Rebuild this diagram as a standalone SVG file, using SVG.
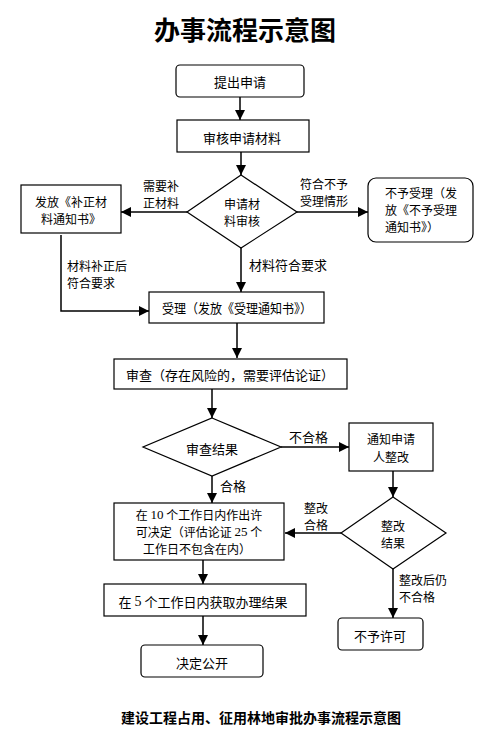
<svg xmlns="http://www.w3.org/2000/svg" width="496" height="737" viewBox="0 0 496 737">
<style>
.box{fill:#fff;stroke:#000;stroke-width:1.2}
.t{font-family:"Noto Sans CJK SC","Noto Sans",sans-serif;font-size:13px;fill:#000;dominant-baseline:central}
.m{font-size:12px}
.c{text-anchor:middle}
.n{font-family:"Liberation Serif",serif;font-size:13px}
.con{fill:none;stroke:#000;stroke-width:1.5;marker-end:url(#ah)}
</style>
<defs>
<marker id="ah" markerUnits="userSpaceOnUse" markerWidth="11" markerHeight="10" refX="10" refY="5" orient="auto">
<path d="M0,0 L10,5 L0,10 z" fill="#000"/>
</marker>
</defs>
<rect width="496" height="737" fill="#fff"/>
<text x="245" y="28" class="t c" style="font-size:26px;font-weight:bold">办事流程示意图</text>

<g id="connectors">
<line class="con" x1="240" y1="97" x2="240" y2="120"/>
<line class="con" x1="241" y1="152" x2="241" y2="175"/>
<line class="con" x1="187" y1="212" x2="121" y2="212"/>
<line class="con" x1="297" y1="212" x2="368" y2="212"/>
<line class="con" x1="241" y1="248" x2="241" y2="292"/>
<polyline class="con" points="61,235 61,311 149,311"/>
<line class="con" x1="237" y1="323" x2="237" y2="358"/>
<line class="con" x1="212" y1="389" x2="212" y2="418"/>
<line class="con" x1="281" y1="447" x2="349" y2="447"/>
<line class="con" x1="212" y1="476" x2="212" y2="503"/>
<line class="con" x1="393" y1="471" x2="393" y2="497"/>
<line class="con" x1="341" y1="533" x2="285" y2="533"/>
<line class="con" x1="393" y1="569" x2="393" y2="618"/>
<line class="con" x1="203" y1="560" x2="203" y2="584"/>
<line class="con" x1="203" y1="616" x2="203" y2="645"/>
<text class="t m" x="143" y="185">需要补</text>
<text class="t m" x="143" y="202">正材料</text>
<text class="t m" x="300" y="183">符合不予</text>
<text class="t m" x="300" y="200">受理情形</text>
<text class="t m" x="67" y="265">材料补正后</text>
<text class="t m" x="67" y="282">符合要求</text>
<text class="t" x="249" y="264">材料符合要求</text>
<text class="t" x="289" y="436">不合格</text>
<text class="t" x="220" y="485">合格</text>
<text class="t m" x="304" y="507">整改</text>
<text class="t m" x="304" y="524">合格</text>
<text class="t m" x="399" y="579">整改后仍</text>
<text class="t m" x="399" y="596">不合格</text>
</g>

<g id="n1"><rect class="box" x="176" y="65" width="128" height="32" rx="4"/><text class="t c" x="240" y="81">提出申请</text></g>
<g id="n2"><rect class="box" x="177" y="120" width="132" height="32"/><text class="t c" x="242" y="137">审核申请材料</text></g>
<g id="n3"><polygon class="box" points="241,175 297,212 241,248 187,212"/><text class="t m c" x="242" y="203">申请材</text><text class="t m c" x="242" y="220">料审核</text></g>
<g id="n4"><rect class="box" x="21" y="185" width="100" height="48"/><text class="t m c" x="71" y="201">发放《补正材</text><text class="t m c" x="71" y="218">料通知书》</text></g>
<g id="n5"><rect class="box" x="368" y="178" width="105" height="64" rx="8"/><text class="t m" x="385" y="192">不予受理（发</text><text class="t m" x="385" y="209">放《不予受理</text><text class="t m" x="385" y="226">通知书》）</text></g>
<g id="n6"><rect class="box" x="149" y="292" width="175" height="31"/><text class="t c" x="237" y="307" textLength="150" lengthAdjust="spacingAndGlyphs">受理（发放《受理通知书》）</text></g>
<g id="n7"><rect class="box" x="114" y="359" width="233" height="30"/><text class="t c" x="230" y="374">审查（存在风险的，需要评估论证）</text></g>
<g id="n8"><polygon class="box" points="212,418 281,447 212,476 143,447"/><text class="t c" x="212" y="448">审查结果</text></g>
<g id="n9"><rect class="box" x="349" y="423" width="84" height="48"/><text class="t m c" x="391" y="438">通知申请</text><text class="t m c" x="391" y="456">人整改</text></g>
<g id="n10"><polygon class="box" points="393,497 446,533 393,569 341,533"/><text class="t m c" x="393" y="525">整改</text><text class="t m c" x="393" y="542">结果</text></g>
<g id="n11"><rect class="box" x="114" y="503" width="170" height="57"/>
<text class="t m c" x="199" y="514">在 <tspan class="n">10</tspan> 个工作日内作出许</text>
<text class="t m c" x="199" y="531">可决定（评估论证 <tspan class="n">25</tspan> 个</text>
<text class="t m c" x="197" y="548">工作日不包含在内）</text></g>
<g id="n12"><rect class="box" x="104" y="584" width="202" height="32"/><text class="t c" x="203" y="601">在 <tspan class="n" style="font-size:14px">5</tspan> 个工作日内获取办理结果</text></g>
<g id="n13"><rect class="box" x="141" y="645" width="122" height="32" rx="4"/><text class="t c" x="202" y="662">决定公开</text></g>
<g id="n14"><rect class="box" x="338" y="618" width="85" height="32" rx="4"/><text class="t c" x="380" y="635">不予许可</text></g>

<text class="t c" x="261" y="717" style="font-size:14px;font-weight:bold">建设工程占用、征用林地审批办事流程示意图</text>
</svg>
